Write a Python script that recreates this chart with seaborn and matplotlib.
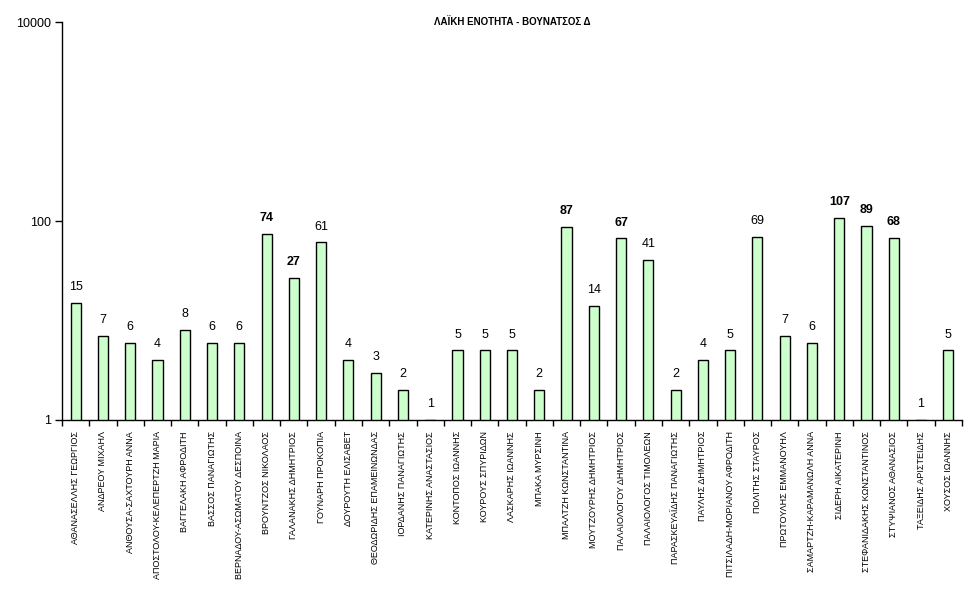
import matplotlib
matplotlib.use("Agg")
import matplotlib.pyplot as plt
import seaborn as sns
import numpy as np
from matplotlib.ticker import FixedLocator, FixedFormatter, NullLocator

# data
names = [
    "ΑΘΑΝΑΣΕΛΛΗΣ ΓΕΩΡΓΙΟΣ", "ΑΝΔΡΕΟΥ ΜΙΧΑΗΛ", "ΑΝΘΟΥΣΑ-ΣΑΧΤΟΥΡΗ ΑΝΝΑ",
    "ΑΠΟΣΤΟΛΟΥ-ΚΕΛΕΠΕΡΤΖΗ ΜΑΡΙΑ", "ΒΑΓΓΕΛΑΚΗ ΑΦΡΟΔΙΤΗ", "ΒΑΣΣΟΣ ΠΑΝΑΓΙΩΤΗΣ",
    "ΒΕΡΝΑΔΟΥ-ΑΣΩΜΑΤΟΥ ΔΕΣΠΟΙΝΑ", "ΒΡΟΥΝΤΖΟΣ ΝΙΚΟΛΑΟΣ", "ΓΑΛΑΝΑΚΗΣ ΔΗΜΗΤΡΙΟΣ",
    "ΓΟΥΝΑΡΗ ΠΡΟΚΟΠΙΑ", "ΔΟΥΡΟΥΤΗ ΕΛΙΣΑΒΕΤ", "ΘΕΟΔΩΡΙΔΗΣ ΕΠΑΜΕΙΝΩΝΔΑΣ",
    "ΙΟΡΔΑΝΗΣ ΠΑΝΑΓΙΩΤΗΣ", "ΚΑΤΕΡΙΝΗΣ ΑΝΑΣΤΑΣΙΟΣ", "ΚΟΝΤΟΠΟΣ ΙΩΑΝΝΗΣ",
    "ΚΟΥΡΟΥΣ ΣΠΥΡΙΔΩΝ", "ΛΑΣΚΑΡΗΣ ΙΩΑΝΝΗΣ", "ΜΠΑΚΑ ΜΥΡΣΙΝΗ",
    "ΜΠΑΛΤΖΗ ΚΩΝΣΤΑΝΤΙΝΑ", "ΜΟΥΤΖΟΥΡΗΣ ΔΗΜΗΤΡΙΟΣ", "ΠΑΛΑΙΟΛΟΓΟΥ ΔΗΜΗΤΡΙΟΣ",
    "ΠΑΛΑΙΟΛΟΓΟΣ ΤΙΜΟΛΕΩΝ", "ΠΑΡΑΣΚΕΥΑΪΔΗΣ ΠΑΝΑΓΙΩΤΗΣ", "ΠΑΥΛΗΣ ΔΗΜΗΤΡΙΟΣ",
    "ΠΙΤΣΙΛΑΔΗ-ΜΟΡΙΑΝΟΥ ΑΦΡΟΔΙΤΗ", "ΠΟΛΙΤΗΣ ΣΤΑΥΡΟΣ", "ΠΡΩΤΟΥΛΗΣ ΕΜΜΑΝΟΥΗΛ",
    "ΣΑΜΑΡΤΖΗ-ΚΑΡΑΜΑΝΩΛΗ ΑΝΝΑ", "ΣΙΔΕΡΗ ΑΙΚΑΤΕΡΙΝΗ", "ΣΤΕΦΑΝΙΔΑΚΗΣ ΚΩΝΣΤΑΝΤΙΝΟΣ",
    "ΣΤΥΨΙΑΝΟΣ ΑΘΑΝΑΣΙΟΣ", "ΤΑΞΕΙΔΗΣ ΑΡΙΣΤΕΙΔΗΣ", "ΧΟΥΣΟΣ ΙΩΑΝΝΗΣ",
]
votes = [15, 7, 6, 4, 8, 6, 6, 74, 27, 61, 4, 3, 2, 1, 5, 5, 5, 2,
         87, 14, 67, 41, 2, 4, 5, 69, 7, 6, 107, 89, 68, 1, 5]
elected = [False, False, False, False, False, False, False, True, True, False,
           False, False, False, False, False, False, False, False, True, False,
           True, False, False, False, False, False, False, False, True, True,
           True, False, False]

sns.set_style("white")
plt.rcParams["font.family"] = ["Liberation Sans", "DejaVu Sans"]
plt.rcParams["text.color"] = "black"
plt.rcParams["xtick.color"] = "black"
plt.rcParams["ytick.color"] = "black"

fig, ax = plt.subplots(figsize=(9.77, 6), dpi=100)
fig.subplots_adjust(left=0.0635, right=0.9846, top=0.963, bottom=0.3)

sns.barplot(x=names, y=votes, color="#ccffcc", edgecolor="black",
            linewidth=1, width=0.37, saturation=1, ax=ax)

ax.set_yscale("log")
ax.set_ylim(1, 10000)
ax.set_xlim(-0.5, len(names) - 0.5)
ax.yaxis.set_major_locator(FixedLocator([1, 100, 10000]))
ax.yaxis.set_major_formatter(FixedFormatter(["1", "100", "10000"]))
ax.yaxis.set_minor_locator(NullLocator())
ax.tick_params(axis="y", left=True, length=5, width=1, labelsize=9,
               direction="out", pad=3)

ax.set_xticks(np.arange(len(names)))
ax.set_xticklabels(names, rotation=90, fontsize=6.5)
ax.set_xticks(np.arange(len(names) + 1) - 0.5, minor=True)
ax.tick_params(axis="x", which="major", bottom=False, length=0, pad=8)
ax.tick_params(axis="x", which="minor", bottom=True, length=4, width=1,
               direction="out")

for side in ["top", "right"]:
    ax.spines[side].set_visible(False)
for side in ["left", "bottom"]:
    ax.spines[side].set_color("black")
    ax.spines[side].set_linewidth(1)

for i, (v, b) in enumerate(zip(votes, elected)):
    ax.annotate(str(v), (i, v), xytext=(0, 7), textcoords="offset points",
                ha="center", va="bottom", fontsize=9,
                fontweight="bold" if b else "normal")

ax.set_title("ΛΑΪΚΗ ΕΝΟΤΗΤΑ - ΒΟΥΝΑΤΣΟΣ Δ", fontsize=7, fontweight="bold",
             loc="center", pad=-2)

fig.savefig("out.png", dpi=100)
